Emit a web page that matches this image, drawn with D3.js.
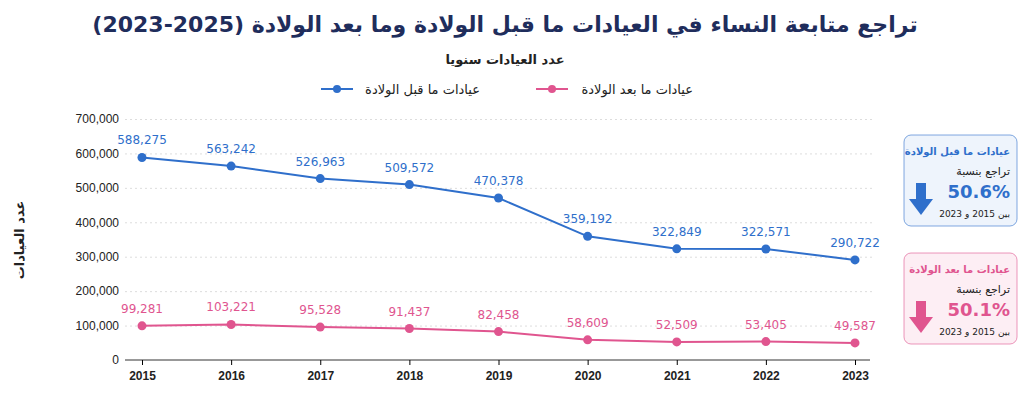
<!DOCTYPE html>
<html>
<head>
<meta charset="utf-8">
<script src="https://cdnjs.cloudflare.com/ajax/libs/d3/7.8.5/d3.min.js"></script>
<style>
  body { margin: 0; background: #fff; font-family: "DejaVu Sans", sans-serif; }
  .grid line { stroke: #ddd; stroke-dasharray: 2,3; }
  .grid path { display: none; }
  .axis text { font-size: 12px; fill: #222; }
</style>
</head>
<body>
<svg id="chart" width="1024" height="401"></svg>
<script>
const years = [2015, 2016, 2017, 2018, 2019, 2020, 2021, 2022, 2023];
const prenatal = [588275, 563242, 526963, 509572, 470378, 359192, 322849, 322571, 290722];
const postnatal = [99281, 103221, 95528, 91437, 82458, 58609, 52509, 53405, 49587];
const yTicks = [0, 100000, 200000, 300000, 400000, 500000, 600000, 700000];

const blue = "#2f6fcb", pink = "#e0558f", navy = "#1f2d5c";
const svg = d3.select("#chart");

const x = d3.scalePoint().domain(years).range([142, 855]);
const y = d3.scaleLinear().domain([0, 700000]).range([360, 119]);
const fmt = d3.format(",");

svg.append("text").attr("x", 505).attr("y", 32).attr("text-anchor", "middle")
  .attr("font-size", 22).attr("font-weight", "bold").attr("fill", navy)
  .text("تراجع متابعة النساء في العيادات ما قبل الولادة وما بعد الولادة (2025-2023)");
svg.append("text").attr("x", 505).attr("y", 64).attr("text-anchor", "middle")
  .attr("font-size", 13).attr("font-weight", "bold").attr("fill", "#222").text("عدد العيادات سنويا");

// legend
const legend = [
  { label: "عيادات ما قبل الولادة", color: blue, mx: 337, tx: 480 },
  { label: "عيادات ما بعد الولادة", color: pink, mx: 552, tx: 693 }
];
legend.forEach(l => {
  svg.append("line").attr("x1", l.mx - 16).attr("x2", l.mx + 16).attr("y1", 89).attr("y2", 89)
    .attr("stroke", l.color).attr("stroke-width", 2);
  svg.append("circle").attr("cx", l.mx).attr("cy", 89).attr("r", 4).attr("fill", l.color);
  svg.append("text").attr("x", l.tx).attr("y", 94).attr("text-anchor", "end")
    .attr("font-size", 13).attr("fill", "#222").text(l.label);
});

svg.append("g").attr("class", "grid").attr("transform", "translate(125,0)")
  .call(d3.axisLeft(y).tickValues(yTicks).tickSize(-750).tickFormat(""))
  .call(g => g.selectAll("line").filter(d => d === 0).remove());

svg.append("g").attr("class", "axis").attr("transform", "translate(125,0)")
  .call(d3.axisLeft(y).tickValues(yTicks).tickFormat(fmt).tickSize(0).tickPadding(6))
  .call(g => g.select(".domain").remove());

svg.append("g").attr("class", "axis").attr("transform", "translate(0,360)")
  .call(d3.axisBottom(x).tickSize(5).tickPadding(6))
  .call(g => g.select(".domain").attr("d", "M125,0H870").attr("stroke", "#333"))
  .call(g => g.selectAll("text").attr("font-weight", "bold"));

svg.append("text").attr("transform", "translate(24,240) rotate(-90)").attr("text-anchor", "middle")
  .attr("font-size", 13).attr("font-weight", "bold").attr("fill", "#222").text("عدد العيادات");

function series(vals, color) {
  const pts = years.map((yr, i) => [x(yr), y(vals[i]), vals[i]]);
  svg.append("path").attr("d", d3.line()(pts)).attr("fill", "none")
    .attr("stroke", color).attr("stroke-width", 2);
  svg.append("g").selectAll("circle").data(pts).join("circle")
    .attr("cx", d => d[0]).attr("cy", d => d[1]).attr("r", 4.5).attr("fill", color);
  svg.append("g").selectAll("text").data(pts).join("text")
    .attr("x", d => d[0]).attr("y", d => d[1] - 13).attr("text-anchor", "middle")
    .attr("font-size", 12).attr("fill", color).text(d => fmt(d[2]));
}
series(prenatal, blue);
series(postnatal, pink);

// side boxes
const boxes = [
  { title: "عيادات ما قبل الولادة", pct: "50.6%", color: blue, fill: "#eef4fc", top: 135 },
  { title: "عيادات ما بعد الولادة", pct: "50.1%", color: pink, fill: "#fdeef4", top: 253 }
];
boxes.forEach(b => {
  const g = svg.append("g").attr("transform", `translate(904,${b.top})`);
  g.append("rect").attr("width", 113).attr("height", 91).attr("rx", 7)
    .attr("fill", b.fill).attr("stroke", b.color).attr("stroke-opacity", 0.6);
  g.append("text").attr("x", 106).attr("y", 20).attr("text-anchor", "end")
    .attr("font-size", 10).attr("font-weight", "bold").attr("fill", b.color).text(b.title);
  g.append("text").attr("x", 106).attr("y", 40).attr("text-anchor", "end")
    .attr("font-size", 11).attr("fill", "#222").text("تراجع بنسبة");
  g.append("text").attr("x", 106).attr("y", 63).attr("text-anchor", "end")
    .attr("font-size", 18).attr("font-weight", "bold").attr("fill", b.color).text(b.pct);
  g.append("text").attr("x", 106).attr("y", 82).attr("text-anchor", "end")
    .attr("font-size", 9).attr("fill", "#222").text("بين 2015 و 2023");
  g.append("path").attr("d", "M12,48H22V64H29L17,80L5,64H12Z").attr("fill", b.color);
});
</script>
</body>
</html>
